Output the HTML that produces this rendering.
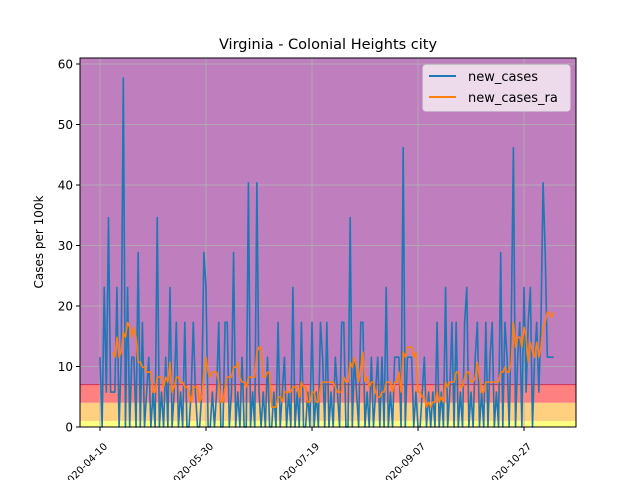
<!DOCTYPE html>
<html><head><meta charset="utf-8"><style>
body{margin:0;background:#fff;font-family:"Liberation Sans","DejaVu Sans",sans-serif}
svg text{font-family:"DejaVu Sans","Liberation Sans",sans-serif}
</style></head><body>
<svg id="chart" width="640" height="480" viewBox="0 0 640 480">
<text x="328" y="49" text-anchor="middle" font-size="14.5">Virginia - Colonial Heights city</text>
<g id="plot"></g>
<text transform="translate(43,242) rotate(-90)" text-anchor="middle" font-size="12">Cases per 100k</text>
<g>
<rect x="423" y="65" width="147" height="46" rx="3" fill="#f2e4f0" fill-opacity="0.9" stroke="#ddd"/>
<line x1="429" y1="76" x2="456" y2="76" stroke="#1f77b4" stroke-width="2"/>
<text x="468" y="81" font-size="13">new_cases</text>
<line x1="429" y1="97" x2="456" y2="97" stroke="#ff7f0e" stroke-width="2"/>
<text x="468" y="102" font-size="13">new_cases_ra</text>
</g>
</svg>
<script>
const unit = 5.77;
const counts = [2,0,4,1,6,1,1,1,4,0,
2,10,0,4,0,2,2,0,5,0,
3,0,1,2,0,1,0,6,0,1,
0,2,0,4,0,1,3,0,1,0,
3,0,0,1,3,1,0,0,1,5,
4,0,0,1,0,1,3,0,0,3,
3,0,1,5,0,1,0,2,0,0,
7,0,1,0,7,1,0,1,0,2,
0,0,1,0,3,0,1,2,0,1,
0,4,0,1,0,3,0,0,1,0,
3,0,1,0,3,2,0,3,0,1,
0,2,1,0,3,3,0,0,6,0,
2,1,0,3,3,0,1,0,2,0,
1,2,0,2,0,4,0,1,0,2,
2,2,0,8,0,2,2,2,0,1,
0,0,1,2,0,1,0,1,0,3,
0,1,0,4,0,1,3,0,3,0,
1,0,3,4,0,1,0,2,3,0,
1,0,3,0,2,3,0,1,0,5,
0,3,2,0,3,8,0,2,3,0,
4,1,3,4,0,2,3,1,3,7,
5,2,2,2,2];
const tickDays = [0,50,100,150,200];
const tickLabels = ["2020-04-10","2020-05-30","2020-07-19","2020-09-07","2020-10-27"];
const yTicks = [0,10,20,30,40,50,60];
const bands = [[0,1,"#ffff80"],[1,4,"#ffd080"],[4,7,"#ff8080"],[7,61,"#bf7fbf"]];

const L=80,R=576,T=58,B=427;
const x = d => 100 + d*2.12;
const y = v => B - v*6.05;
const ns="http://www.w3.org/2000/svg";
const g=document.getElementById('plot');
function mk(t,a){const e=document.createElementNS(ns,t);for(const k in a)e.setAttribute(k,a[k]);g.appendChild(e);return e;}
bands.forEach(b=>{const e=mk('rect',{x:L,y:Math.max(T,y(b[1])),width:R-L,height:y(b[0])-Math.max(T,y(b[1])),fill:b[2]});

});
mk('line',{x1:L,x2:R,y1:y(7),y2:y(7),stroke:'#d03050','stroke-width':1});
yTicks.forEach(v=>{const l=mk('line',{x1:L,x2:R,y1:y(v),y2:y(v),stroke:'#b0b0b0','stroke-width':0.8});


mk('line',{x1:L-4,x2:L,y1:y(v),y2:y(v),stroke:'#000'});
const t=mk('text',{x:L-7,y:y(v)+4.5,'text-anchor':'end','font-size':12});t.textContent=v;

});
tickDays.forEach((d,i)=>{const l=mk('line',{x1:x(d),x2:x(d),y1:T,y2:B,stroke:'#b0b0b0','stroke-width':0.8});


mk('line',{x1:x(d),x2:x(d),y1:B,y2:B+4,stroke:'#000'});
const ax=x(d)+8, ay=B+20;
const t=mk('text',{x:ax,y:ay,'text-anchor':'end','font-size':10,transform:`rotate(-45 ${ax} ${ay})`});t.textContent=tickLabels[i];

});
const vals=counts.map(c=>c*unit);
const p1=mk('polyline',{points:vals.map((v,i)=>x(i)+','+y(v)).join(' '),fill:'none',stroke:'#1f77b4','stroke-width':1.6,'stroke-linejoin':'round'});


const ra=[];for(let i=6;i<vals.length;i++){let s=0;for(let k=i-6;k<=i;k++)s+=vals[k];ra.push([i,s/7]);}
const p2=mk('polyline',{points:ra.map(p=>x(p[0])+','+y(p[1])).join(' '),fill:'none',stroke:'#ff7f0e','stroke-width':1.6,'stroke-linejoin':'round'});


mk('rect',{x:L,y:T,width:R-L,height:B-T,fill:'none',stroke:'#000','stroke-width':1});
</script>
</body></html>
